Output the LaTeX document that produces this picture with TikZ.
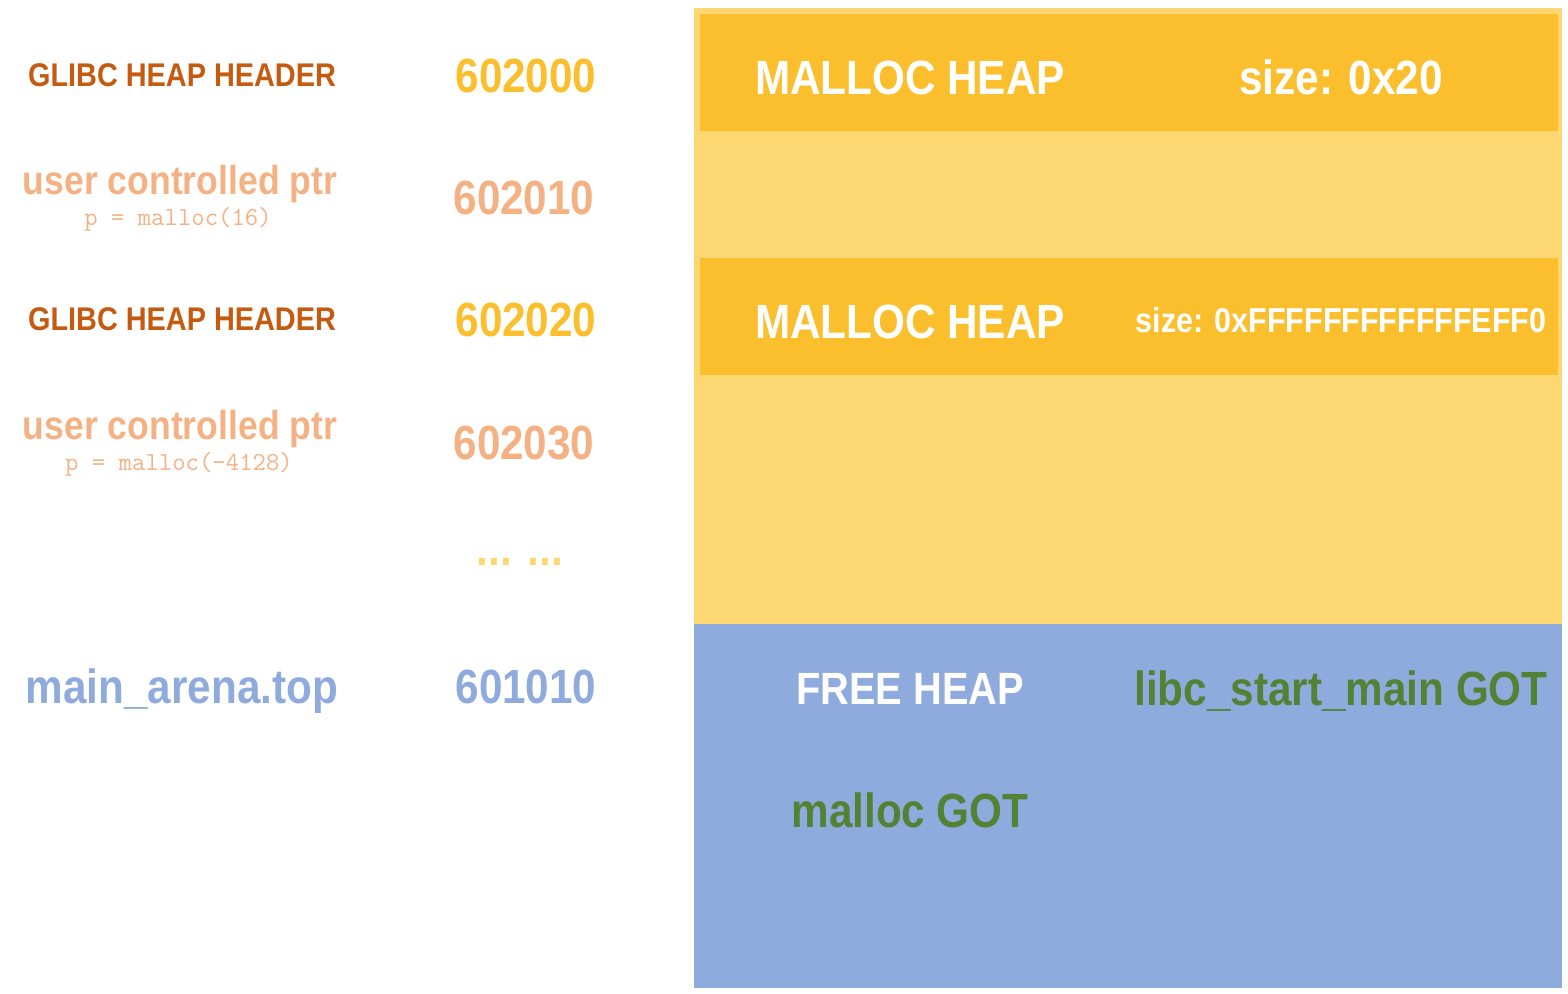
\documentclass[tikz,border=0pt]{standalone}
\usepackage{fontspec}
\setmainfont[FakeStretch=0.88]{Liberation Sans}
\usetikzlibrary{positioning}
\definecolor{hdrbrown}{HTML}{C55A11}
\definecolor{ptrsalmon}{HTML}{F4B183}
\definecolor{heapgold}{HTML}{FBBF2D}
\definecolor{heaplight}{HTML}{FDD771}
\definecolor{arenablue}{HTML}{8FAADC}
\definecolor{gotgreen}{HTML}{548235}
\tikzset{
  txt/.style={inner sep=0pt, anchor=base},
  hdr/.style={txt, text=hdrbrown, font=\bfseries\fontsize{16.4pt}{18pt}\selectfont},
  ptr/.style={txt, text=ptrsalmon, font=\bfseries\fontsize{20.2pt}{22pt}\selectfont},
  code/.style={txt, text=ptrsalmon, font=\ttfamily\fontsize{13pt}{14pt}\selectfont},
  addr/.style={txt, font=\bfseries\fontsize{24pt}{26pt}\selectfont},
  big/.style={txt, font=\bfseries\fontsize{24pt}{26pt}\selectfont},
  small/.style={txt, font=\bfseries\fontsize{17.3pt}{19pt}\selectfont},
}

\begin{document}
\begin{tikzpicture}[x=0.5pt, y=-0.5pt]
  \useasboundingbox (0,0) rectangle (1568,994);

  % memory regions
  \fill[heaplight] (694,8) rectangle (1562,624);
  \fill[heapgold] (700,14) rectangle (1558,131);
  \fill[heapgold] (700,258) rectangle (1558,375);
  \fill[arenablue] (694,624) rectangle (1562,988);

  % left column
  \node[hdr] (hdrA) at (182,87) {GLIBC HEAP HEADER};
  \node[ptr] (ptrA) at (180,195) {user controlled ptr};
  \node[code] (codeA) at (178,226) {p = malloc(16)};
  \node[hdr] (hdrB) at (182,331) {GLIBC HEAP HEADER};
  \node[ptr] (ptrB) at (180,439) {user controlled ptr};
  \node[code] (codeB) at (179,470) {p = malloc(-4128)};
  \node[addr, text=arenablue] (arena) at (182,703) {main\_arena.top};

  % addresses
  \node[addr, text=heapgold] (adrA) at (526,93) {602000};
  \node[addr, text=ptrsalmon] (adrB) at (524,215) {602010};
  \node[addr, text=heapgold] (adrC) at (526,337) {602020};
  \node[addr, text=ptrsalmon] (adrD) at (524,459) {602030};
  \node[addr, text=heaplight] (dots) at (520,565) {... ...};
  \node[addr, text=arenablue] (adrE) at (526,703) {601010};

  % heap contents
  \node[big, text=white] (heapA) at (910,95) {MALLOC HEAP};
  \node[big, text=white] (sizeA) at (1341,95) {size: 0x20};
  \node[big, text=white] (heapB) at (910,339) {MALLOC HEAP};
  \node[small, text=white] (sizeB) at (1341,333) {size: 0xFFFFFFFFFFFFEFF0};
  \node[big, text=white, font=\bfseries\fontsize{22.6pt}{24pt}\selectfont] (free) at (910,704) {FREE HEAP};
  \node[big, text=gotgreen] (libc) at (1341,705) {libc\_start\_main GOT};
  \node[big, text=gotgreen] (mgot) at (910,827) {malloc GOT};
\end{tikzpicture}
\end{document}
